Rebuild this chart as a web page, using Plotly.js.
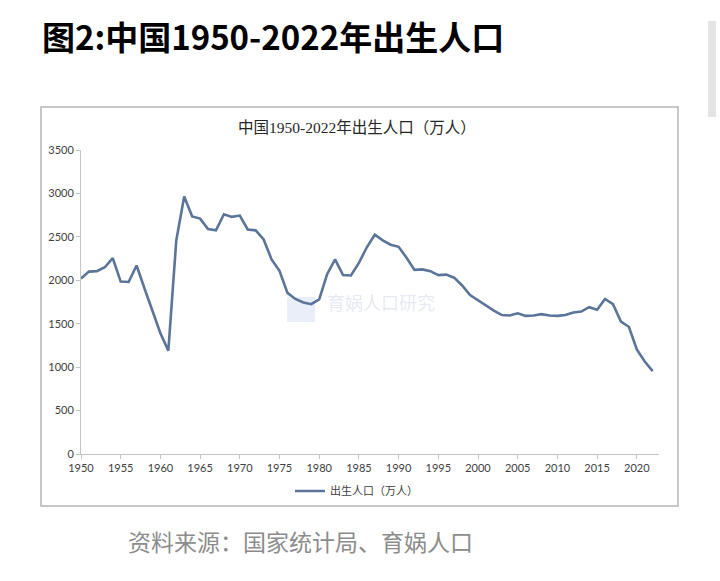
<!DOCTYPE html>
<html>
<head>
<meta charset="utf-8">
<script src="https://cdn.plot.ly/plotly-3.0.1.min.js"></script>
<style>
html,body{margin:0;padding:0;background:#fff;}
#chart{width:720px;height:581px;}
</style>
</head>
<body>
<div id="chart"></div>
<script>
// ---- data ----
const years = [1950,1951,1952,1953,1954,1955,1956,1957,1958,1959,
  1960,1961,1962,1963,1964,1965,1966,1967,1968,1969,
  1970,1971,1972,1973,1974,1975,1976,1977,1978,1979,
  1980,1981,1982,1983,1984,1985,1986,1987,1988,1989,
  1990,1991,1992,1993,1994,1995,1996,1997,1998,1999,
  2000,2001,2002,2003,2004,2005,2006,2007,2008,2009,
  2010,2011,2012,2013,2014,2015,2016,2017,2018,2019,
  2020,2021,2022];
const births = [2020,2100,2105,2150,2255,1985,1980,2170,1905,1650,
  1390,1190,2460,2965,2735,2710,2590,2575,2760,2730,
  2745,2585,2575,2470,2240,2110,1855,1785,1745,1725,
  1780,2070,2240,2060,2055,2200,2380,2525,2460,2410,
  2385,2260,2120,2125,2105,2060,2065,2030,1940,1830,
  1770,1705,1650,1600,1595,1620,1590,1595,1610,1595,
  1590,1600,1630,1640,1690,1660,1785,1725,1525,1465,
  1205,1065,955];
const xTicks = [1950,1955,1960,1965,1970,1975,1980,1985,1990,1995,2000,2005,2010,2015,2020];
const yTicks = [0,500,1000,1500,2000,2500,3000,3500];
const seriesName = '出生人口（万人）';
const pageTitle = '图2:中国1950-2022年出生人口';
const chartTitle = '中国1950-2022年出生人口（万人）';
const sourceText = '资料来源：国家统计局、育娲人口';
const watermark = '育娲人口研究';

// ---- geometry helpers (plot area 81..659 x, 150..454 y) ----
const PL = 81, PR = 659, PT = 150, PB = 454;
const PW = PR - PL, PH = PB - PT;
const X = px => (px - PL) / PW;
const Y = py => (PB - py) / PH;

const trace = {
  x: years, y: births, type: 'scatter', mode: 'lines', name: seriesName,
  line: {color: '#5b7499', width: 2.6}, showlegend: true
};

const tickFont = {family: 'Lato, "Liberation Sans", sans-serif', size: 11, color: '#404040'};
const cjk = '"Noto Sans CJK SC", sans-serif';

const layout = {
  width: 720, height: 581,
  paper_bgcolor: '#ffffff', plot_bgcolor: 'rgba(0,0,0,0)',
  margin: {l: PL, r: 720 - PR, t: PT, b: 581 - PB, pad: 0},
  title: {
    text: '<b>' + pageTitle + '</b>', xref: 'container', yref: 'container',
    x: 42/720, xanchor: 'left', y: 1 - 38/581, yanchor: 'middle',
    font: {family: cjk, size: 33, color: '#000000'}
  },
  xaxis: {
    range: [1950, 1950 + PW/7.94], showgrid: false, zeroline: false,
    showline: true, linecolor: '#c3c3c3', linewidth: 1,
    tickmode: 'array', tickvals: xTicks, ticktext: xTicks.map(String),
    ticks: 'outside', ticklen: 4, tickcolor: '#c3c3c3', tickwidth: 1,
    tickfont: tickFont, fixedrange: true
  },
  yaxis: {
    range: [0, 3500], showgrid: false, zeroline: false,
    showline: true, linecolor: '#c3c3c3', linewidth: 1,
    tickmode: 'array', tickvals: yTicks, ticktext: yTicks.map(String),
    ticks: 'outside', ticklen: 4, tickcolor: '#c3c3c3', tickwidth: 1,
    tickfont: tickFont, fixedrange: true
  },
  legend: {
    orientation: 'h', x: X(290), xanchor: 'left', y: Y(491), yanchor: 'middle',
    xref: 'paper', yref: 'paper', itemwidth: 30,
    font: {family: '"Liberation Serif", ' + cjk, size: 11, color: '#404040'},
    bgcolor: 'rgba(0,0,0,0)'
  },
  shapes: [
    {type: 'rect', xref: 'paper', yref: 'paper', x0: X(41), x1: X(678), y0: Y(506), y1: Y(107),
     line: {color: '#b5b5b5', width: 1.5}, fillcolor: 'rgba(0,0,0,0)', layer: 'below'},
    {type: 'rect', xref: 'paper', yref: 'paper', x0: X(708), x1: X(716), y0: Y(117), y1: Y(21),
     line: {width: 0}, fillcolor: '#e4e4e4', layer: 'below'},
    {type: 'rect', xref: 'paper', yref: 'paper', x0: X(287), x1: X(315), y0: Y(322), y1: Y(297),
     line: {width: 0}, fillcolor: 'rgba(214,221,244,0.5)', layer: 'below'}
  ],
  annotations: [
    {text: chartTitle, xref: 'paper', yref: 'paper', x: X(357), y: Y(127),
     xanchor: 'center', yanchor: 'middle', showarrow: false,
     font: {family: '"Liberation Serif", ' + cjk, size: 15.5, color: '#262626'}},
    {text: watermark, xref: 'paper', yref: 'paper', x: X(325), y: Y(302),
     xanchor: 'left', yanchor: 'middle', showarrow: false,
     font: {family: cjk, size: 18, color: 'rgba(200,206,224,0.45)'}},
    {text: sourceText, xref: 'paper', yref: 'paper', x: X(300), y: Y(541),
     xanchor: 'center', yanchor: 'middle', showarrow: false,
     font: {family: cjk, size: 23, color: '#8c8c8c'}}
  ]
};

Plotly.newPlot('chart', [trace], layout, {displayModeBar: false, staticPlot: true});
</script>
</body>
</html>
